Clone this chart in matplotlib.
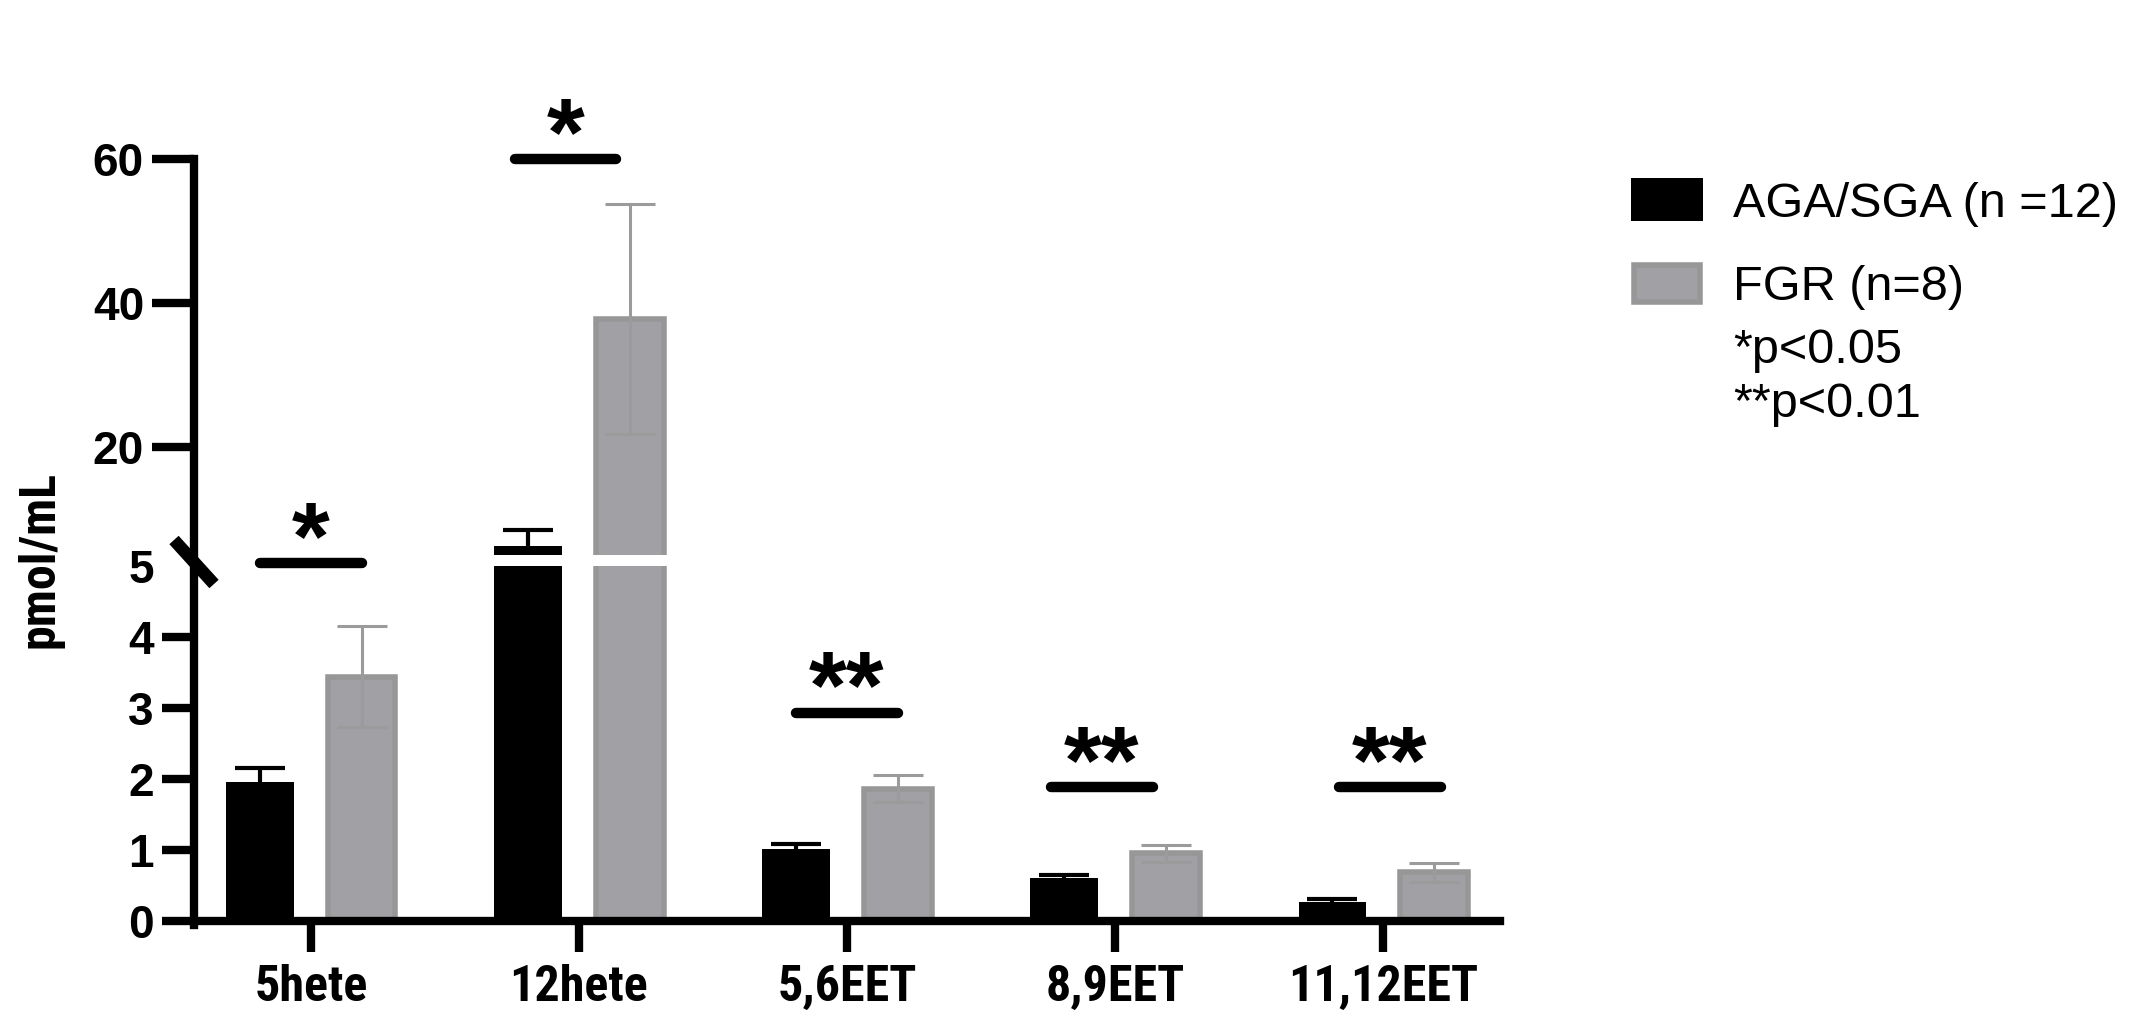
import numpy as np
import matplotlib.pyplot as plt
from matplotlib.lines import Line2D
from matplotlib.patches import Rectangle

# data (pmol/mL, mean and SEM)
groups = ['5hete', '12hete', '5,6EET', '8,9EET', '11,12EET']
aga_mean = [1.96, 6.2, 1.01, 0.60, 0.26]
aga_sem = [0.19, 2.2, 0.07, 0.05, 0.05]
fgr_mean = [3.44, 37.8, 1.86, 0.95, 0.68]
fgr_sem = [0.71, 16.0, 0.19, 0.12, 0.13]
sig_labels = ['*', '*', '**', '**', '**']
sig_level = [5.04, 60, 2.93, 1.88, 1.88]
sig_shift = [0.0, -0.05, 0.0, -0.05, 0.025]

lower_ticks = [0, 1, 2, 3, 4, 5]
upper_ticks = [20, 40, 60]

BLACK = '#000000'
GRAY = '#a1a1a5'
GRAY_EDGE = '#979797'
ERR_GRAY = '#9b9b9b'

W, H = 2129, 1013
fig = plt.figure(figsize=(W / 100, H / 100), dpi=100)

def fx(px):
    return px / W

def fy(py):
    return (H - py) / H

# axes placement (pixel coords of reference)
x_left, x_right = 194, 1500
y0_px, y5_px = 920.6, 566.2
u5_px, u60_px = 554.7, 159.0

ax_lo = fig.add_axes([fx(x_left), fy(y0_px), fx(x_right - x_left), (y0_px - y5_px) / H])
ax_hi = fig.add_axes([fx(x_left), fy(u5_px), fx(x_right - x_left), (u5_px - u60_px) / H])
ax_hi.set_facecolor('none')
ax_lo.set_facecolor('none')

x = np.arange(len(groups))
width = 0.253
off = 0.189

tick_font = dict(family=['Liberation Sans', 'DejaVu Sans'], weight='bold', size=33)
narrow_family = ['Roboto Condensed', 'Liberation Sans', 'DejaVu Sans']
narrow_font = dict(family=narrow_family, weight='bold', size=36)

for ax in (ax_lo, ax_hi):
    ax.bar(x - off, aga_mean, width, color=BLACK, zorder=2)
    ax.bar(x + off, fgr_mean, width, color=GRAY, edgecolor=GRAY_EDGE, linewidth=4, zorder=2)
    ax.errorbar(x - off, aga_mean, yerr=aga_sem, fmt='none', ecolor=BLACK,
                elinewidth=3, capsize=18, capthick=3, zorder=3)
    ax.errorbar(x + off, fgr_mean, yerr=fgr_sem, fmt='none', ecolor=ERR_GRAY,
                elinewidth=2.2, capsize=18, capthick=2.2, zorder=3)
    ax.set_xlim(-0.436, len(groups) - 1 + 0.436)
    for s in ('top', 'right', 'left'):
        ax.spines[s].set_visible(False)
    ax.tick_params(axis='y', direction='out', width=6, color=BLACK)

ax_lo.set_ylim(0, 5)
ax_hi.set_ylim(5, 60)

ax_lo.spines['bottom'].set_linewidth(6)
ax_lo.set_xticks(x)
ax_lo.set_xticklabels(groups, fontdict=narrow_font)
ax_lo.tick_params(axis='x', direction='out', length=22, width=6, pad=9)

ax_lo.set_yticks(lower_ticks)
ax_lo.set_yticklabels([str(t) for t in lower_ticks], fontdict=tick_font)
ax_lo.tick_params(axis='y', length=23, pad=6)
ax_lo.yaxis.get_major_ticks()[-1].tick1line.set_visible(False)

ax_hi.spines['bottom'].set_visible(False)
ax_hi.set_xticks([])
ax_hi.set_yticks(upper_ticks)
ax_hi.set_yticklabels([str(t) for t in upper_ticks], fontdict=tick_font)
ax_hi.tick_params(axis='y', length=30, pad=6)

# continuous y axis line across the break
fig.add_artist(Line2D([fx(x_left), fx(x_left)], [fy(y0_px + 4), fy(u60_px)],
                      color=BLACK, linewidth=6, solid_capstyle='projecting'))
# break mark
fig.add_artist(Line2D([fx(x_left - 20), fx(x_left + 20)], [fy(540), fy(584)],
                      color=BLACK, linewidth=9, solid_capstyle='butt'))

# significance bars and stars
star_font = dict(family=['Liberation Sans', 'DejaVu Sans'], weight='bold', size=70)
for i, (lab, lvl, sh) in enumerate(zip(sig_labels, sig_level, sig_shift)):
    ax = ax_hi if lvl > 5.5 else ax_lo
    cx = x[i] + sh
    ax.plot([cx - 0.19, cx + 0.19], [lvl, lvl], color=BLACK, linewidth=7.5,
            solid_capstyle='round', clip_on=False, zorder=4)
    ax.annotate(lab, (cx, lvl), xytext=(0, -4), textcoords='offset points',
                ha='center', va='baseline', annotation_clip=False, **star_font)

# y label
fig.text(fx(40), fy(559), 'pmol/mL', rotation=90, ha='center', va='center', **narrow_font)

# legend
fig.add_artist(Rectangle((fx(1631), fy(221)), fx(72), 43 / H, transform=fig.transFigure,
                         facecolor=BLACK, edgecolor='none'))
fig.add_artist(Rectangle((fx(1634), fy(302)), fx(66), 37 / H, transform=fig.transFigure,
                         facecolor=GRAY, edgecolor=GRAY_EDGE, linewidth=4))
leg_font = dict(family=['Liberation Sans', 'DejaVu Sans'], size=35)
fig.text(fx(1733), fy(217), 'AGA/SGA (n =12)', ha='left', va='baseline', **leg_font)
fig.text(fx(1733), fy(300), 'FGR (n=8)', ha='left', va='baseline', **leg_font)
fig.text(fx(1733), fy(363), '*p<0.05', ha='left', va='baseline', **leg_font)
fig.text(fx(1733), fy(417), '**p<0.01', ha='left', va='baseline', **leg_font)

fig.savefig('out.png', dpi=100, facecolor='white')
